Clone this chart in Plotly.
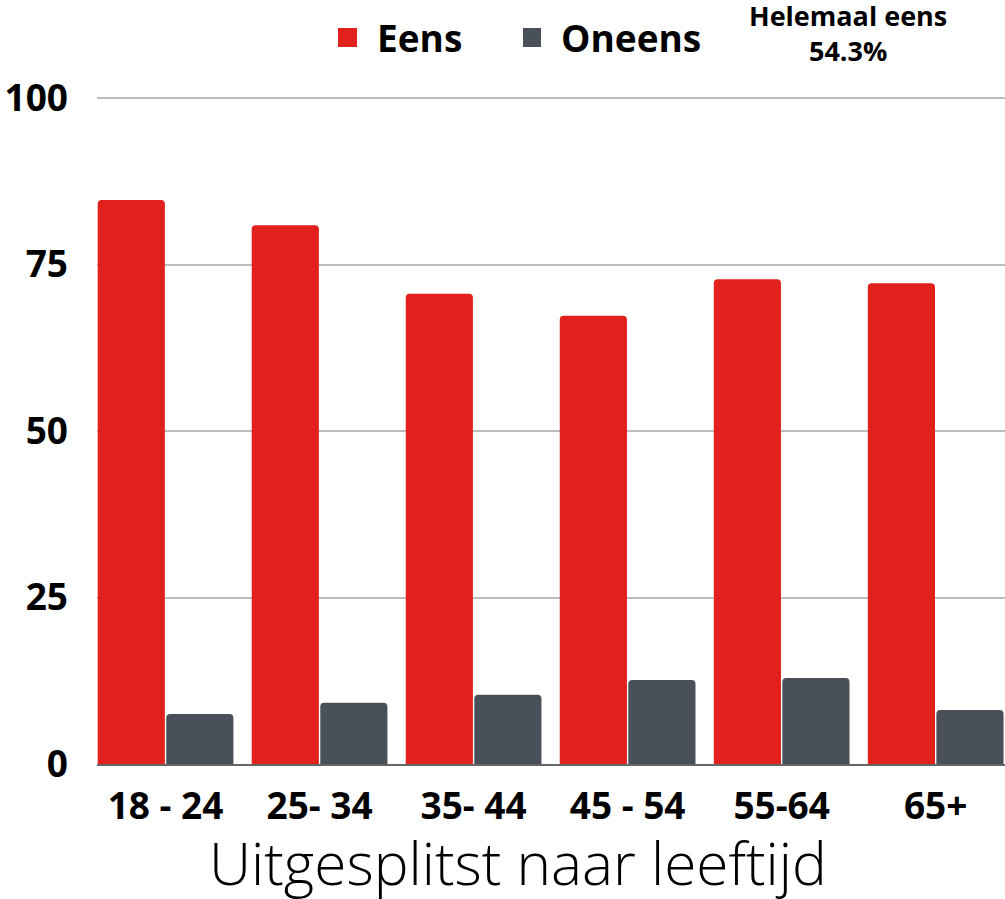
import plotly.graph_objects as go

categories = ["18 - 24", "25- 34", "35- 44", "45 - 54", "55-64", "65+"]
eens = [84.7, 80.9, 70.6, 67.3, 72.8, 72.2]
oneens = [7.5, 9.2, 10.4, 12.6, 12.9, 8.1]
y_ticks = [0, 25, 50, 75, 100]
series_names = ["Eens", "Oneens"]

RED = "#E2211C"
GRAY = "#4A5059"
FONT = "Open Sans"

W, H = 1005, 899
L, R, T, B = 97, 0, 96, 135
PW, PH = W - L - R, H - T - B


def px(x):
    return (x - L) / PW


def py(y):
    return (H - B - y) / PH


fig = go.Figure()
fig.add_trace(go.Bar(x=categories, y=eens, name=series_names[0], marker=dict(color=RED, line=dict(width=0))))
fig.add_trace(go.Bar(x=categories, y=oneens, name=series_names[1], marker=dict(color=GRAY, line=dict(width=0))))

shapes = [
    dict(type="rect", xref="paper", yref="paper", x0=px(338), x1=px(357), y0=py(47), y1=py(28),
         fillcolor=RED, line=dict(width=0), layer="above"),
    dict(type="rect", xref="paper", yref="paper", x0=px(523), x1=px(541), y0=py(47), y1=py(28),
         fillcolor=GRAY, line=dict(width=0), layer="above"),
]

annotations = [
    dict(text=series_names[0], xref="paper", yref="paper", x=px(375), y=py(37), xanchor="left", yanchor="middle",
         showarrow=False, font=dict(size=37, family=FONT, weight="bold", color="black")),
    dict(text=series_names[1], xref="paper", yref="paper", x=px(559), y=py(37), xanchor="left", yanchor="middle",
         showarrow=False, font=dict(size=37, family=FONT, weight="bold", color="black")),
    dict(text="Helemaal eens<br>54.3%", xref="paper", yref="paper", x=px(848), y=py(33), xanchor="center",
         yanchor="middle", showarrow=False, font=dict(size=27, family=FONT, weight="bold", color="black")),
    dict(text="Uitgesplitst naar leeftijd", xref="paper", yref="paper", x=px(518), y=py(862), xanchor="center",
         yanchor="middle", showarrow=False, font=dict(size=58.5, family=FONT, weight=300, color="black")),
]

fig.update_layout(
    width=W, height=H,
    margin=dict(l=L, r=R, t=T, b=B, autoexpand=False),
    plot_bgcolor="white", paper_bgcolor="white",
    barmode="group", bargap=0.11, bargroupgap=0.02,
    barcornerradius=4,
    font=dict(family=FONT, color="black"),
    showlegend=False,
    xaxis=dict(range=[-0.445, 5.45], showgrid=False, showline=True, linecolor="#666666", linewidth=2,
               tickfont=dict(size=37, family=FONT, weight="bold", color="black"), ticks="",
               ticklabelstandoff=9, automargin=False),
    yaxis=dict(range=[0, 100.3], tickvals=y_ticks, showgrid=True, gridcolor="#BDBDBD", gridwidth=1.5,
               zeroline=False, showline=False, ticks="",
               tickfont=dict(size=37, family=FONT, weight="bold", color="black"),
               ticklabelstandoff=28, automargin=False),
    shapes=shapes,
    annotations=annotations,
)

fig.write_html("out.html", config={"displayModeBar": False},
               post_script="document.body.style.margin='0';document.body.style.overflow='hidden';")
